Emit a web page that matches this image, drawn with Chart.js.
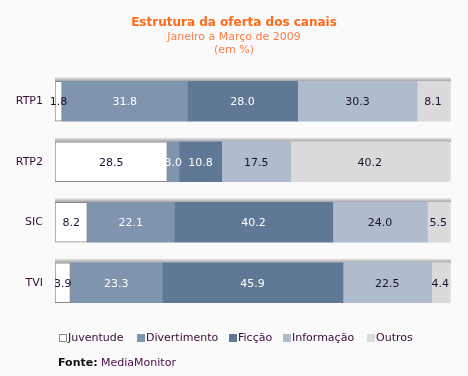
<!DOCTYPE html>
<html>
<head>
<meta charset="utf-8">
<script src="https://cdn.jsdelivr.net/npm/chart.js@4.4.1/dist/chart.umd.min.js"></script>
<style>
  html, body { margin:0; padding:0; background:#fafafa; }
  #wrap { position:relative; width:468px; height:376px; background:#fafafa; font-family:"DejaVu Sans", Verdana, sans-serif; }
  #cv { position:absolute; left:0; top:0; }
  .t1 { position:absolute; left:0; width:468px; text-align:center; top:15px; font-size:12px; font-weight:bold; color:#ff6a1a; }
  .t2 { position:absolute; left:0; width:468px; text-align:center; top:30px; font-size:11px; color:#ff7a45; line-height:13px; }
  #legend { position:absolute; left:59px; top:331px; font-size:11px; color:#3a0a3a; height:14px; }
  .li { position:absolute; top:0; white-space:nowrap; line-height:14px; }
  .box { position:absolute; top:3px; width:8px; height:8px; box-sizing:border-box; }
  #src { position:absolute; left:58px; top:356px; font-size:11px; color:#4a0a4a; }
  #src b { color:#111; }
</style>
</head>
<body>
<div id="wrap">
  <canvas id="cv" width="468" height="376"></canvas>
  <div class="t1">Estrutura da oferta dos canais</div>
  <div class="t2">Janeiro a Março de 2009<br>(em %)</div>
  <div id="legend"></div>
  <div id="src"><b>Fonte:</b> MediaMonitor</div>
</div>
<script>
const categories = ["RTP1", "RTP2", "SIC", "TVI"];
const seriesNames = ["Juventude", "Divertimento", "Ficção", "Informação", "Outros"];
const juventude    = [1.8, 28.5, 8.2, 3.9];
const divertimento = [31.8, 3.0, 22.1, 23.3];
const ficcao       = [28.0, 10.8, 40.2, 45.9];
const informacao   = [30.3, 17.5, 24.0, 22.5];
const outros       = [8.1, 40.2, 5.5, 4.4];

const fills   = ["#ffffff", "#7f95ad", "#5f7896", "#b0bccd", "#dadada"];
const borders = ["#888888", "#7f95ad", "#5f7896", "#b0bccd", "#dadada"];
const labelColors = ["#1a1030", "#ffffff", "#ffffff", "#1a1030", "#1a1030"];
const seriesData = [juventude, divertimento, ficcao, informacao, outros];

// HTML legend
const legendX = [0, 78, 170, 224, 308];
const leg = document.getElementById('legend');
seriesNames.forEach((n, i) => {
  const d = document.createElement('div');
  d.className = 'li';
  d.style.left = legendX[i] + 'px';
  const b = document.createElement('span');
  b.className = 'box';
  b.style.left = '0px';
  b.style.background = fills[i];
  b.style.border = '1px solid ' + borders[i];
  const s = document.createElement('span');
  s.style.marginLeft = '9px';
  s.textContent = n;
  d.appendChild(b); d.appendChild(s);
  leg.appendChild(d);
});

const shadowPlugin = {
  id: 'shadow',
  beforeDatasetsDraw(chart) {
    const ctx = chart.ctx;
    const metaFirst = chart.getDatasetMeta(0);
    const metaLast = chart.getDatasetMeta(chart.data.datasets.length - 1);
    metaFirst.data.forEach((el, i) => {
      const last = metaLast.data[i];
      const top = el.y - el.height / 2;
      const x0 = el.base;
      const x1 = last.x + 2;
      const g = ctx.createLinearGradient(0, top - 4, 0, top);
      g.addColorStop(0, 'rgb(232,232,232)');
      g.addColorStop(1, 'rgb(160,160,160)');
      ctx.save();
      ctx.fillStyle = g;
      ctx.fillRect(x0, top - 4, x1 - x0, 4);
      ctx.fillStyle = 'rgba(200,200,200,0.5)';
      ctx.fillRect(last.x, top, 2, el.height);
      ctx.restore();
    });
  }
};

const labelPlugin = {
  id: 'vals',
  afterDatasetsDraw(chart) {
    const ctx = chart.ctx;
    ctx.save();
    ctx.font = '11px "DejaVu Sans", Verdana, sans-serif';
    ctx.textAlign = 'center';
    ctx.textBaseline = 'middle';
    chart.data.datasets.forEach((ds, di) => {
      const meta = chart.getDatasetMeta(di);
      meta.data.forEach((el, i) => {
        const v = ds.data[i];
        const cx = (el.x + el.base) / 2;
        ctx.fillStyle = labelColors[di];
        ctx.fillText(v.toFixed(1), cx, el.y + 1);
      });
    });
    ctx.restore();
  }
};

new Chart(document.getElementById('cv'), {
  type: 'bar',
  data: {
    labels: categories,
    datasets: seriesNames.map((n, i) => ({
      label: n,
      data: seriesData[i],
      backgroundColor: fills[i],
      borderColor: borders[i],
      borderWidth: i === 0 ? 1 : 0,
      borderSkipped: false,
      barThickness: 40
    }))
  },
  options: {
    indexAxis: 'y',
    responsive: false,
    animation: false,
    devicePixelRatio: 1,
    layout: { padding: { left: 0, right: 19, top: 71, bottom: 63 } },
    plugins: { legend: { display: false }, title: { display: false }, tooltip: { enabled: false } },
    scales: {
      x: { stacked: true, min: 0, max: 100, display: false },
      y: {
        stacked: true,
        grid: { display: false, drawTicks: false },
        border: { display: false },
        ticks: { padding: 12, color: '#3a0a3a', font: { family: '"DejaVu Sans", Verdana, sans-serif', size: 11 } },
        afterFit(scale) { scale.width = 55; }
      }
    }
  },
  plugins: [shadowPlugin, labelPlugin]
});
</script>
</body>
</html>
